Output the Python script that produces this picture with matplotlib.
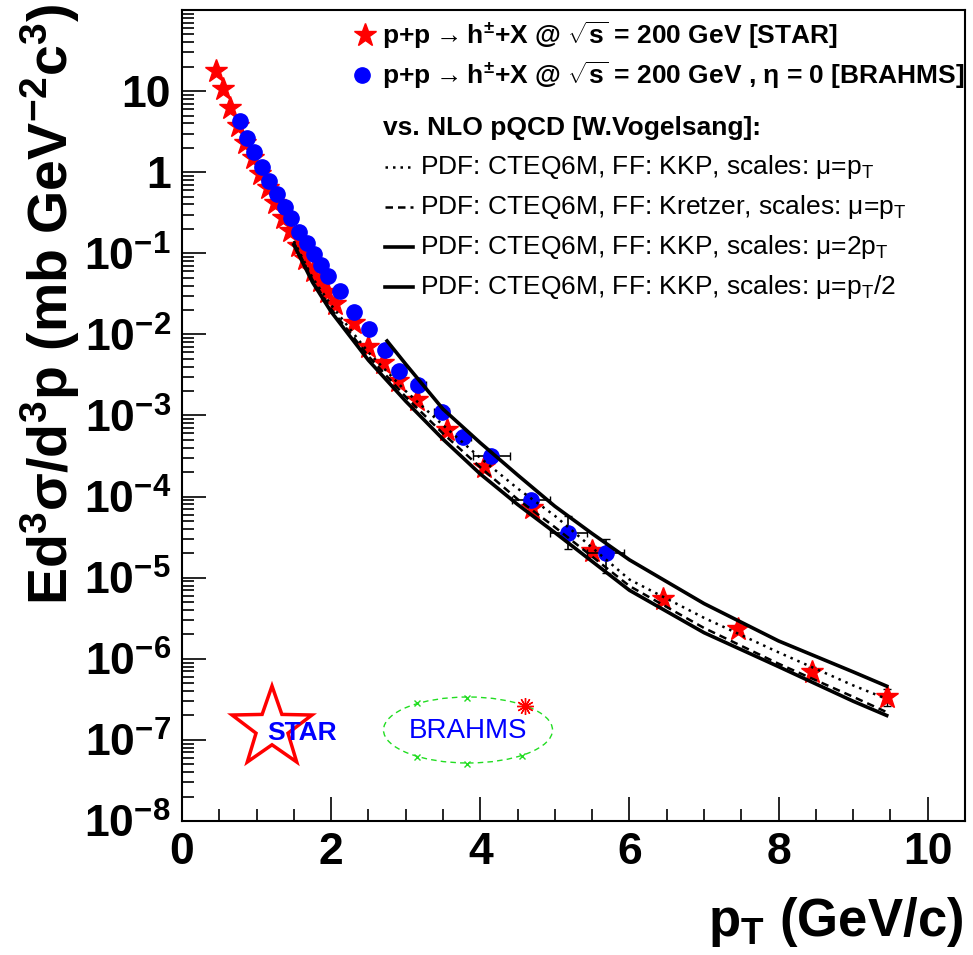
import numpy as np
import matplotlib
matplotlib.use("Agg")
import matplotlib.pyplot as plt
from matplotlib.patches import Ellipse, Polygon
from matplotlib.lines import Line2D
from matplotlib.ticker import FixedLocator, FixedFormatter, LogLocator, NullFormatter, MultipleLocator

plt.rcParams['font.family'] = ['Liberation Sans', 'DejaVu Sans']
plt.rcParams['font.weight'] = 'bold'
plt.rcParams['mathtext.fontset'] = 'custom'
plt.rcParams['mathtext.rm'] = 'Liberation Sans'
plt.rcParams['mathtext.default'] = 'regular'

# STAR p+p -> h+- + X, sqrt(s)=200 GeV
star_pt = [0.45, 0.55, 0.65, 0.75, 0.85, 0.95, 1.05, 1.15, 1.25, 1.35, 1.45, 1.55,
           1.65, 1.75, 1.85, 1.95, 2.05, 2.3, 2.5, 2.7, 2.9, 3.15, 3.55, 4.05,
           4.7, 5.5, 6.45, 7.45, 8.45, 9.45]
star_y = [17.6, 10.6, 6.2, 3.7, 2.3, 1.5, 0.95, 0.64, 0.42, 0.27, 0.19, 0.124,
          0.085, 0.06, 0.045, 0.033, 0.024, 0.014, 0.0069, 0.0044, 0.0027, 0.00154, 6.6e-4, 2.3e-4,
          7.2e-5, 2.14e-5, 5.4e-6, 2.3e-6, 6.9e-7, 3.4e-7]
star_yerr = [0] * 25 + [3e-6, 0.6e-6, 0.3e-6, 1.0e-7, 0.8e-7]

# BRAHMS p+p -> h+- + X, eta = 0
brahms_pt = [0.78, 0.87, 0.97, 1.07, 1.17, 1.28, 1.38, 1.46, 1.57, 1.68, 1.77, 1.87, 1.96,
             2.12, 2.31, 2.51, 2.72, 2.91, 3.17, 3.48, 3.77, 4.15, 4.68, 5.18, 5.68]
brahms_y = [4.28, 2.64, 1.78, 1.16, 0.78, 0.54, 0.374, 0.274, 0.184, 0.135, 0.099, 0.071, 0.052,
            0.034, 0.019, 0.0115, 0.0065, 0.0035, 0.0024, 0.0011, 5.4e-4, 3.2e-4, 9.1e-5, 3.6e-5, 2.0e-5]
brahms_xerr = [0] * 13 + [0.05, 0.05, 0.05, 0.05, 0.1, 0.1, 0.1, 0.1, 0.25, 0.25, 0.25, 0.25]
brahms_ylo = [0] * 21 + [4e-5, 1.5e-5, 1.33e-5, 0.85e-5]
brahms_yhi = [0] * 21 + [4e-5, 1.5e-5, 2.1e-5, 1.0e-5]

# NLO pQCD (W. Vogelsang)
nlo_pt = [1.5, 1.75, 2.0, 2.5, 3.0, 3.5, 4.0, 4.5, 5.0, 6.0, 7.0, 8.0, 9.0, 9.45]
nlo_kkp = [0.142, 0.05, 0.023, 6.0e-3, 2.0e-3, 7.6e-4, 3.0e-4, 1.26e-4, 5.8e-5, 9.5e-6, 3.2e-6, 1.2e-6, 4.7e-7, 3.2e-7]
nlo_kretzer = [0.135, 0.047, 0.0205, 5.4e-3, 1.7e-3, 6.0e-4, 2.3e-4, 9.3e-5, 4.2e-5, 7.9e-6, 2.4e-6, 8.7e-7, 3.4e-7, 2.2e-7]
nlo_kkp_2pt = [0.128, 0.044, 0.019, 4.8e-3, 1.5e-3, 5.1e-4, 1.9e-4, 8.0e-5, 3.6e-5, 7.0e-6, 2.1e-6, 8.0e-7, 3.0e-7, 2.0e-7]
nlo_half_pt = [2.75, 3.0, 3.5, 4.0, 4.5, 5.0, 5.5, 6.0, 7.0, 8.0, 9.0, 9.45]
nlo_kkp_half = [8.3e-3, 4.3e-3, 1.2e-3, 4.6e-4, 1.85e-4, 7.6e-5, 3.5e-5, 1.66e-5, 4.8e-6, 1.66e-6, 6.9e-7, 4.6e-7]

ytick_vals = [1e-8, 1e-7, 1e-6, 1e-5, 1e-4, 1e-3, 1e-2, 1e-1, 1, 10]
ytick_labels = [r'10$^{-8}$', r'10$^{-7}$', r'10$^{-6}$', r'10$^{-5}$', r'10$^{-4}$',
                r'10$^{-3}$', r'10$^{-2}$', r'10$^{-1}$', '1', '10']
xtick_vals = [0, 2, 4, 6, 8, 10]

W, H = 973, 955


def fpx(x, y):
    # pixel position -> figure fraction
    return x / W, 1 - y / H


fig = plt.figure(figsize=(W / 100, H / 100), dpi=100)
ax = fig.add_axes([182 / W, 1 - 821 / H, 783 / W, 811 / H])
ax.set_yscale('log')
ax.set_xlim(0, 10.5)
ax.set_ylim(1e-8, 1e2)

# data
ax.errorbar(star_pt, star_y, yerr=star_yerr, fmt='*', color='red', ms=17, mec='red',
            ecolor='black', elinewidth=1, capsize=3, zorder=3)
ax.errorbar(brahms_pt, brahms_y, xerr=brahms_xerr, yerr=[brahms_ylo, brahms_yhi], fmt='o',
            color='blue', ms=11, mec='blue', ecolor='black', elinewidth=1.2, capsize=3, zorder=4)

# theory curves on top
ax.plot(nlo_pt, nlo_kkp, color='black', ls=(0, (1, 2)), lw=1.8, zorder=5)
ax.plot(nlo_pt, nlo_kretzer, color='black', ls=(0, (3, 2)), lw=1.8, zorder=5)
ax.plot(nlo_pt, nlo_kkp_2pt, color='black', ls='-', lw=2.6, zorder=5)
ax.plot(nlo_half_pt, nlo_kkp_half, color='black', ls='-', lw=2.6, zorder=5)

# axes style (ROOT-like)
ax.yaxis.set_major_locator(FixedLocator(ytick_vals))
ax.yaxis.set_major_formatter(FixedFormatter(ytick_labels))
ax.yaxis.set_minor_locator(LogLocator(base=10, subs=np.arange(2, 10), numticks=30))
ax.yaxis.set_minor_formatter(NullFormatter())
ax.set_xticks(xtick_vals)
ax.xaxis.set_minor_locator(MultipleLocator(0.5))
ax.tick_params(which='major', direction='in', length=17, width=1.2, labelsize=32, pad=8)
ax.tick_params(which='minor', direction='in', length=8.5, width=1.2)
ax.tick_params(top=False, right=False, which='both')
for s in ax.spines.values():
    s.set_linewidth(1.5)

fig.text(*fpx(50, 4), r'Ed$^{3}$σ/d$^{3}$p (mb GeV$^{-2}$c$^{3}$)', rotation=90,
         ha='center', va='top', fontsize=40, fontweight='bold')
fig.text(*fpx(963, 922), r'p$_{T}$ (GeV/c)', ha='right', va='center', fontsize=38, fontweight='bold')

# legend
leg_fs = 19
fig.add_artist(Line2D([365 / W], [1 - 35 / H], marker='*', color='red', ms=17, transform=fig.transFigure))
fig.text(*fpx(382, 35), r'p+p$\rightarrow$h$^{\pm}$+X @ $\sqrt{s}$ = 200 GeV [STAR]',
         ha='left', va='center', fontsize=leg_fs, fontweight='bold')
fig.add_artist(Line2D([362 / W], [1 - 75 / H], marker='o', color='blue', ms=11, transform=fig.transFigure))
fig.text(*fpx(382, 75), r'p+p$\rightarrow$h$^{\pm}$+X @ $\sqrt{s}$ = 200 GeV , η = 0 [BRAHMS]',
         ha='left', va='center', fontsize=leg_fs, fontweight='bold')
fig.text(*fpx(383, 128), 'vs. NLO pQCD [W.Vogelsang]:', ha='left', va='center',
         fontsize=leg_fs, fontweight='bold')

theory_labels = [r'PDF: CTEQ6M, FF: KKP, scales: μ=p$_{T}$',
                 r'PDF: CTEQ6M, FF: Kretzer, scales: μ=p$_{T}$',
                 r'PDF: CTEQ6M, FF: KKP, scales: μ=2p$_{T}$',
                 r'PDF: CTEQ6M, FF: KKP, scales: μ=p$_{T}$/2']
theory_styles = [((0, (1, 2)), 1.8), ((0, (3, 2)), 1.8), ('-', 2.6), ('-', 2.6)]
for i, (lab, (ls, lw)) in enumerate(zip(theory_labels, theory_styles)):
    yy = 167 + 40 * i
    fig.add_artist(Line2D([385 / W, 413 / W], [1 - yy / H] * 2, color='black', ls=ls, lw=lw,
                          transform=fig.transFigure))
    fig.text(*fpx(420, yy), lab, ha='left', va='center', fontsize=leg_fs, fontweight='normal')

# STAR logo
cx, cy, r_out = 272, 728, 42
ang = np.pi / 2 + np.arange(10) * np.pi / 5
rad = np.where(np.arange(10) % 2 == 0, r_out, r_out * 0.4)
verts = [fpx(cx + r * np.cos(a), cy - r * np.sin(a)) for r, a in zip(rad, ang)]
fig.add_artist(Polygon(verts, closed=True, fill=False, ec='red', lw=2.5, transform=fig.transFigure))
fig.text(*fpx(302, 733), 'STAR', ha='center', va='center', color='blue', fontsize=19,
         fontweight='bold')

# BRAHMS logo
fig.add_artist(Ellipse(fpx(468, 730), 169 / W, 66 / H, fill=False, ec='#22dd22', lw=1,
                       ls=(0, (4, 3)), transform=fig.transFigure))
for mx, my in [(417, 703), (467, 698), (522, 756), (467, 764), (417, 757)]:
    fig.add_artist(Line2D([mx / W], [1 - my / H], marker='x', color='#22dd22', ms=5, mew=1,
                          transform=fig.transFigure))
fig.add_artist(Line2D([525 / W], [1 - 706 / H], marker=(12, 2, 0), color='red', ms=12, mew=1,
                      transform=fig.transFigure))
fig.text(*fpx(468, 731), 'BRAHMS', ha='center', va='center', color='blue', fontsize=20,
         fontweight='normal')

fig.savefig('out.png', dpi=100)
